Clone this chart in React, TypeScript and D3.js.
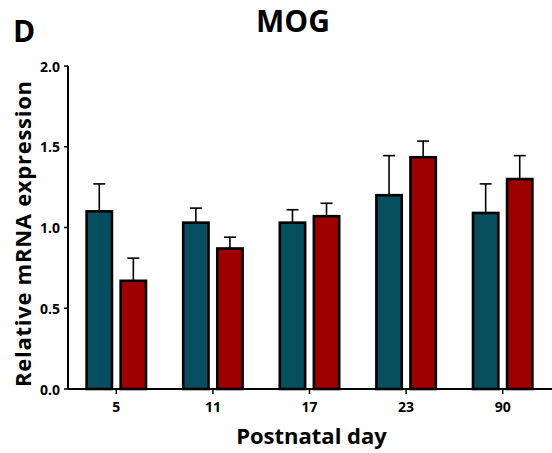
import React from "react";
import * as d3 from "d3";

const days = ["5", "11", "17", "23", "90"];
const series = ["control", "treated"];
const controlMeans = [1.1, 1.03, 1.03, 1.2, 1.09];
const controlErr = [0.17, 0.09, 0.08, 0.245, 0.18];
const treatedMeans = [0.67, 0.87, 1.07, 1.435, 1.3];
const treatedErr = [0.14, 0.07, 0.08, 0.1, 0.145];
const yTicks = [0, 0.5, 1.0, 1.5, 2.0];
const colors = ["#064f5f", "#9e0000"];

const W = 552;
const H = 453;
const left = 68;
const right = 551;
const top = 66;
const bottom = 389;
const FONT = "'Open Sans', 'DejaVu Sans', sans-serif";

export default function App() {
  const x = d3.scaleBand<string>().domain(days).range([left, right]).padding(0);
  const x1 = d3.scaleBand<string>().domain(series).range([-31, 31]).paddingInner(0.18);
  const y = d3.scaleLinear().domain([0, 2]).range([bottom, top]);
  const data = [
    { means: controlMeans, errs: controlErr },
    { means: treatedMeans, errs: treatedErr },
  ];
  return (
    <svg width={W} height={H} style={{ position: "absolute", left: 0, top: 0, background: "#fff" }} fontFamily={FONT}>
      <text x={13} y={42} fontSize={30} fontWeight="bold">D</text>
      <text x={293} y={32} fontSize={30} fontWeight="bold" textAnchor="middle">MOG</text>
      {/* bars */}
      {days.map((d, i) => {
        const cx = (x(d) as number) + x.bandwidth() / 2;
        return (
          <g key={d}>
            {series.map((s, j) => {
              const m = data[j].means[i];
              const e = data[j].errs[i];
              const bx = cx + (x1(s) as number);
              const bw = x1.bandwidth();
              const mid = bx + bw / 2;
              return (
                <g key={s}>
                  <line x1={mid} x2={mid} y1={y(m)} y2={y(m + e)} stroke="#000" strokeWidth={1.6} />
                  <line x1={mid - 6} x2={mid + 6} y1={y(m + e)} y2={y(m + e)} stroke="#000" strokeWidth={1.6} />
                  <rect x={bx + 1.3} y={y(m)} width={bw - 2.6} height={bottom - y(m)} fill={colors[j]} stroke="#000" strokeWidth={2.6} />
                </g>
              );
            })}
          </g>
        );
      })}
      {/* y axis */}
      <line x1={left} x2={left} y1={top} y2={bottom} stroke="#000" strokeWidth={2} />
      {yTicks.map((t) => (
        <g key={t}>
          <line x1={left - 4} x2={left} y1={y(t)} y2={y(t)} stroke="#000" strokeWidth={1.5} />
          <text x={60} y={y(t) + 5.5} fontSize={14} fontWeight="bold" textAnchor="end">{t.toFixed(1)}</text>
        </g>
      ))}
      {/* x axis */}
      <line x1={left} x2={W} y1={bottom} y2={bottom} stroke="#000" strokeWidth={2} />
      {days.map((d) => {
        const cx = (x(d) as number) + x.bandwidth() / 2;
        return (
          <g key={d}>
            <line x1={cx} x2={cx} y1={bottom} y2={bottom + 5} stroke="#000" strokeWidth={1.5} />
            <text x={cx} y={412} fontSize={14} fontWeight="bold" textAnchor="middle">{d}</text>
          </g>
        );
      })}
      <text x={311.5} y={444} fontSize={22} fontWeight="bold" textAnchor="middle">Postnatal day</text>
      <text transform={`translate(31, 234) rotate(-90)`} fontSize={22} fontWeight="bold" textAnchor="middle" textLength={306} lengthAdjust="spacing">Relative mRNA expression</text>
    </svg>
  );
}
